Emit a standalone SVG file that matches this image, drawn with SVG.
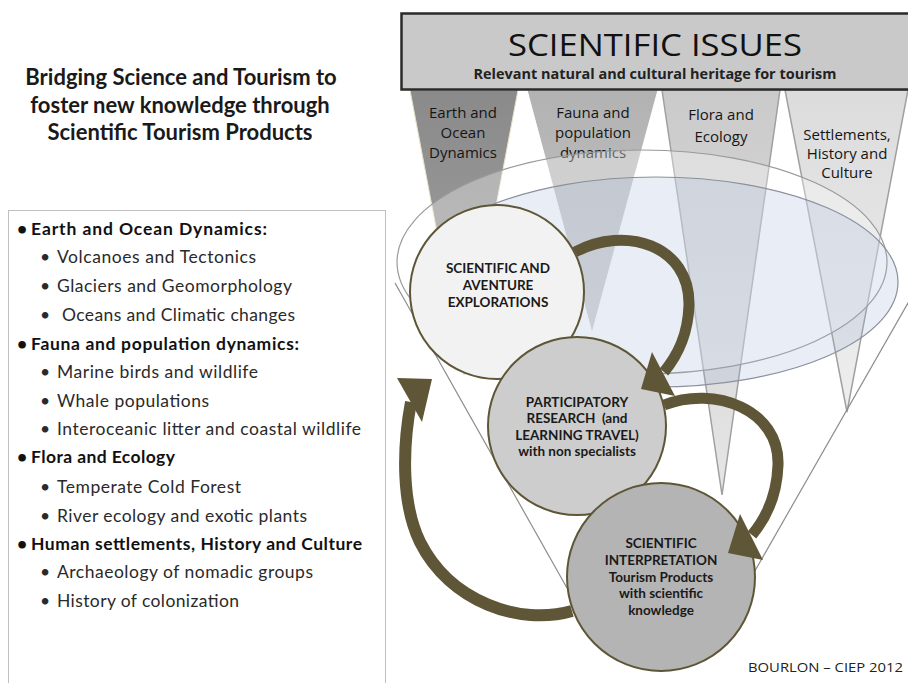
<svg xmlns="http://www.w3.org/2000/svg" width="908" height="683" viewBox="0 0 908 683">
<style>
.title{font-family:Lato,"Liberation Sans",sans-serif;font-weight:bold;font-size:22px;fill:#1a1a1a;text-anchor:middle}
.h{font-family:Lato,"Liberation Sans",sans-serif;font-weight:bold;font-size:17.5px;fill:#111}
.it{font-family:Lato,"Liberation Sans",sans-serif;font-size:17.5px;fill:#2a2a2a}
.tl{font-family:"Open Sans","Liberation Sans",sans-serif;font-size:15px;fill:#151515;text-anchor:middle}
.ct{font-family:Lato,"Liberation Sans",sans-serif;font-weight:bold;font-size:13.5px;fill:#1a1a1a;text-anchor:middle}
.circ{stroke:#5e5636;stroke-width:2}
.band{fill:none;stroke:#5e5636;stroke-linecap:butt}
.head{fill:#5e5636}
.cone{stroke:#8c8c8c;stroke-width:1.2;fill:none}
</style>
<defs>
<linearGradient id="gE" x1="0" y1="0" x2="0" y2="1"><stop offset="0" stop-color="#8a8a8a"/><stop offset="1" stop-color="#a4a4a4"/></linearGradient>
<linearGradient id="gFa" x1="0" y1="0" x2="0" y2="1"><stop offset="0" stop-color="#b2b2b2"/><stop offset="1" stop-color="#c6c6c6"/></linearGradient>
<linearGradient id="gFl" x1="0" y1="0" x2="0" y2="1"><stop offset="0" stop-color="#cacaca"/><stop offset="1" stop-color="#e6e6e6"/></linearGradient>
<linearGradient id="gS" x1="0" y1="0" x2="0" y2="1"><stop offset="0" stop-color="#dcdcdc"/><stop offset="1" stop-color="#eeeeee"/></linearGradient>
</defs>
<rect width="908" height="683" fill="#ffffff"/>

<g id="title">
<text class="title" x="181" y="85">Bridging Science and Tourism to</text>
<text class="title" x="180" y="113">foster new knowledge through</text>
<text class="title" x="180" y="140">Scientific Tourism Products</text>
</g>

<g id="topics-list">
<rect x="8.5" y="210.5" width="377" height="480" fill="#ffffff" stroke="#c0c0c0" stroke-width="1"/>
<text class="h" x="17" y="235">•</text><text class="h" x="31" y="235" textLength="236">Earth and Ocean Dynamics:</text>
<text class="it" x="40" y="263">•</text><text class="it" x="57" y="263" textLength="199">Volcanoes and Tectonics</text>
<text class="it" x="40" y="292">•</text><text class="it" x="57" y="292" textLength="235">Glaciers and Geomorphology</text>
<text class="it" x="40" y="321">•</text><text class="it" x="62" y="321" textLength="233">Oceans and Climatic changes</text>
<text class="h" x="17" y="350">•</text><text class="h" x="31" y="350" textLength="268">Fauna and population dynamics:</text>
<text class="it" x="40" y="378">•</text><text class="it" x="57" y="378" textLength="201">Marine birds and wildlife</text>
<text class="it" x="40" y="407">•</text><text class="it" x="57" y="407" textLength="152">Whale populations</text>
<text class="it" x="40" y="435">•</text><text class="it" x="57" y="435" textLength="304">Interoceanic litter and coastal wildlife</text>
<text class="h" x="17" y="463">•</text><text class="h" x="31" y="463" textLength="144">Flora and Ecology</text>
<text class="it" x="40" y="493">•</text><text class="it" x="57" y="493" textLength="184">Temperate Cold Forest</text>
<text class="it" x="40" y="522">•</text><text class="it" x="57" y="522" textLength="250">River ecology and exotic plants</text>
<text class="h" x="17" y="550">•</text><text class="h" x="31" y="550" textLength="331">Human settlements, History and Culture</text>
<text class="it" x="40" y="578">•</text><text class="it" x="57" y="578" textLength="256">Archaeology of nomadic groups</text>
<text class="it" x="40" y="607">•</text><text class="it" x="57" y="607" textLength="182">History of colonization</text>
</g>

<g id="issue-earth">
<polygon points="410,90 518,90 464,375" fill="url(#gE)" stroke="#e6dfc4" stroke-width="1"/>
<text class="tl" x="463" y="118">Earth and</text>
<text class="tl" x="463" y="138">Ocean</text>
<text class="tl" x="463" y="158">Dynamics</text>
</g>
<g id="issue-fauna">
<polygon points="527,90 658,90 592,333" fill="url(#gFa)" stroke="#ffffff" stroke-width="1"/>
<text class="tl" x="593" y="118">Fauna and</text>
<text class="tl" x="593" y="138">population</text>
<text class="tl" x="593" y="158">dynamics</text>
</g>
<g id="issue-flora">
<polygon points="662,90 780,90 722,495" fill="url(#gFl)" stroke="#a0a0a0" stroke-width="1.5"/>
<text class="tl" x="721" y="120">Flora and</text>
<text class="tl" x="721" y="142">Ecology</text>
</g>
<g id="issue-settlements">
<polygon points="785,90 908,90 847,412" fill="url(#gS)" stroke="#a0a0a0" stroke-width="1.5"/>
<text class="tl" x="847" y="140">Settlements,</text>
<text class="tl" x="847" y="159">History and</text>
<text class="tl" x="847" y="178">Culture</text>
</g>

<g id="header">
<rect x="401.5" y="13.5" width="520" height="76" fill="#c9c9c9" stroke="#2a2a2a" stroke-width="2.5"/>
<text x="655" y="56" font-family="'Open Sans','Liberation Sans',sans-serif" font-size="31" fill="#111" text-anchor="middle" textLength="294" lengthAdjust="spacingAndGlyphs">SCIENTIFIC ISSUES</text>
<text x="655" y="79" font-family="'Open Sans','Liberation Sans',sans-serif" font-size="14" font-weight="bold" fill="#222" text-anchor="middle" textLength="363" lengthAdjust="spacingAndGlyphs">Relevant natural and cultural heritage for tourism</text>
</g>

<g id="funnel">
<ellipse cx="642" cy="262" rx="245" ry="112" fill="#ffffff" fill-opacity="0.32" stroke="#9a9a9a" stroke-width="1.2"/>
<ellipse cx="656" cy="282" rx="242" ry="105" fill="#a0b2d5" fill-opacity="0.23" stroke="#8a909c" stroke-width="1.2"/>
<line class="cone" x1="395" y1="283" x2="567" y2="588"/>
<line class="cone" x1="912" y1="296" x2="752" y2="576"/>
</g>

<g id="node-explorations">
<circle class="circ" cx="497" cy="292" r="87" fill="#f2f2f2"/>
<text class="ct" x="498" y="273">SCIENTIFIC AND</text>
<text class="ct" x="498" y="290">AVENTURE</text>
<text class="ct" x="498" y="307">EXPLORATIONS</text>
</g>
<g id="node-participatory">
<circle class="circ" cx="577" cy="426" r="89" fill="#cdcdcd"/>
<text class="ct" x="577" y="407">PARTICIPATORY</text>
<text class="ct" x="577" y="423" xml:space="preserve">RESEARCH  (and</text>
<text class="ct" x="577" y="440">LEARNING TRAVEL)</text>
<text class="ct" x="577" y="456">with non specialists</text>
</g>
<g id="node-interpretation">
<circle class="circ" cx="661" cy="577" r="94" fill="#b4b4b4"/>
<text class="ct" x="661" y="548">SCIENTIFIC</text>
<text class="ct" x="661" y="565">INTERPRETATION</text>
<text class="ct" x="661" y="582">Tourism Products</text>
<text class="ct" x="661" y="598">with scientific</text>
<text class="ct" x="661" y="615">knowledge</text>
</g>

<g id="connectors">
<path class="band" stroke-width="11" d="M 575 252 C 625 225, 690 245, 689 305 C 688 335, 678 355, 664 372"/>
<polygon class="head" points="652,352 675,396 641,389"/>
<path class="band" stroke-width="11" d="M 664 405 C 715 385, 780 410, 778 465 C 777 495, 767 517, 752 535"/>
<polygon class="head" points="740,514 763,560 728,553"/>
<path class="band" stroke-width="12" d="M 572 611 C 520 626, 450 602, 420 542 C 402 505, 402 450, 411 402"/>
<polygon class="head" points="397,378 432,379 422,422"/>
</g>

<text x="903" y="672" font-family="'Open Sans','Liberation Sans',sans-serif" font-size="13.5" fill="#222" text-anchor="end" textLength="155" lengthAdjust="spacingAndGlyphs">BOURLON – CIEP 2012</text>
</svg>
